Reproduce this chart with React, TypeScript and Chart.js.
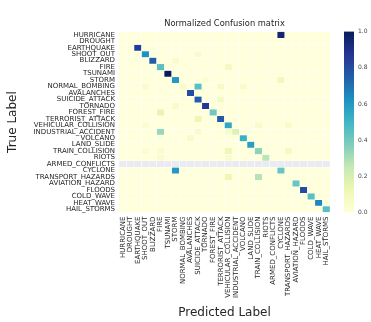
import React, { useEffect, useRef } from "react";
import { Chart, registerables } from "chart.js";

Chart.register(...registerables);

const classes = [
  "HURRICANE", "DROUGHT", "EARTHQUAKE", "SHOOT_OUT", "BLIZZARD", "FIRE", "TSUNAMI",
  "STORM", "NORMAL_BOMBING", "AVALANCHES", "SUICIDE_ATTACK", "TORNADO", "FOREST_FIRE",
  "TERRORIST_ATTACK", "VEHICULAR_COLLISION", "INDUSTRIAL_ACCIDENT", "VOLCANO", "LAND_SLIDE",
  "TRAIN_COLLISION", "RIOTS", "ARMED_CONFLICTS", "CYCLONE", "TRANSPORT_HAZARDS",
  "AVIATION_HAZARD", "FLOODS", "COLD_WAVE", "HEAT_WAVE", "HAIL_STORMS",
];

// rows with no samples (NaN after normalisation)
const nanRows = ["ARMED_CONFLICTS"];

// [true label, predicted label, normalised value]; all other cells are 0
const confusionEntries: [string, string, number][] = [
  ["HURRICANE", "CYCLONE", 0.95],
  ["EARTHQUAKE", "EARTHQUAKE", 0.85],
  ["SHOOT_OUT", "SHOOT_OUT", 0.62],
  ["SHOOT_OUT", "SUICIDE_ATTACK", 0.05],
  ["BLIZZARD", "BLIZZARD", 0.75],
  ["BLIZZARD", "STORM", 0.05],
  ["FIRE", "FIRE", 0.45],
  ["FIRE", "VEHICULAR_COLLISION", 0.08],
  ["TSUNAMI", "TSUNAMI", 1.0],
  ["STORM", "STORM", 0.6],
  ["STORM", "CYCLONE", 0.1],
  ["STORM", "TORNADO", 0.03],
  ["NORMAL_BOMBING", "SHOOT_OUT", 0.04],
  ["NORMAL_BOMBING", "NORMAL_BOMBING", 0.06],
  ["NORMAL_BOMBING", "SUICIDE_ATTACK", 0.45],
  ["NORMAL_BOMBING", "TERRORIST_ATTACK", 0.07],
  ["NORMAL_BOMBING", "VOLCANO", 0.05],
  ["AVALANCHES", "AVALANCHES", 0.8],
  ["SUICIDE_ATTACK", "SUICIDE_ATTACK", 0.75],
  ["SUICIDE_ATTACK", "TERRORIST_ATTACK", 0.08],
  ["TORNADO", "TORNADO", 0.87],
  ["TORNADO", "STORM", 0.05],
  ["FOREST_FIRE", "FOREST_FIRE", 0.4],
  ["FOREST_FIRE", "FIRE", 0.15],
  ["TERRORIST_ATTACK", "TERRORIST_ATTACK", 0.76],
  ["TERRORIST_ATTACK", "SUICIDE_ATTACK", 0.12],
  ["VEHICULAR_COLLISION", "VEHICULAR_COLLISION", 0.55],
  ["VEHICULAR_COLLISION", "SHOOT_OUT", 0.03],
  ["VEHICULAR_COLLISION", "TRAIN_COLLISION", 0.05],
  ["VEHICULAR_COLLISION", "TRANSPORT_HAZARDS", 0.05],
  ["INDUSTRIAL_ACCIDENT", "FIRE", 0.33],
  ["INDUSTRIAL_ACCIDENT", "SUICIDE_ATTACK", 0.05],
  ["INDUSTRIAL_ACCIDENT", "VEHICULAR_COLLISION", 0.06],
  ["INDUSTRIAL_ACCIDENT", "INDUSTRIAL_ACCIDENT", 0.18],
  ["VOLCANO", "VOLCANO", 0.52],
  ["VOLCANO", "AVALANCHES", 0.06],
  ["LAND_SLIDE", "LAND_SLIDE", 0.58],
  ["TRAIN_COLLISION", "TRAIN_COLLISION", 0.35],
  ["TRAIN_COLLISION", "VEHICULAR_COLLISION", 0.12],
  ["TRAIN_COLLISION", "TRANSPORT_HAZARDS", 0.08],
  ["TRAIN_COLLISION", "SHOOT_OUT", 0.03],
  ["TRAIN_COLLISION", "FIRE", 0.04],
  ["RIOTS", "RIOTS", 0.27],
  ["RIOTS", "FIRE", 0.04],
  ["RIOTS", "VEHICULAR_COLLISION", 0.04],
  ["CYCLONE", "STORM", 0.6],
  ["CYCLONE", "CYCLONE", 0.42],
  ["TRANSPORT_HAZARDS", "VEHICULAR_COLLISION", 0.12],
  ["TRANSPORT_HAZARDS", "TRAIN_COLLISION", 0.28],
  ["AVIATION_HAZARD", "AVIATION_HAZARD", 0.42],
  ["FLOODS", "FLOODS", 0.8],
  ["COLD_WAVE", "COLD_WAVE", 0.45],
  ["HEAT_WAVE", "HEAT_WAVE", 0.65],
  ["HAIL_STORMS", "HAIL_STORMS", 0.45],
];

const colorbarTicks = [0, 0.2, 0.4, 0.6, 0.8, 1.0];

const chartTitle = "Normalized Confusion matrix";
const xTitle = "Predicted Label";
const yTitle = "True Label";

// YlGnBu colormap stops
const ylgnbu = ["#ffffd9", "#edf8b1", "#c7e9b4", "#7fcdbb", "#41b6c4", "#1d91c0", "#225ea8", "#253494", "#081d58"];
const nanColor = "#eaeaf2";
const textColor = "#262626";
const fontFamily = "'DejaVu Sans', sans-serif";

function hexToRgb(h: string) {
  const n = parseInt(h.slice(1), 16);
  return [(n >> 16) & 255, (n >> 8) & 255, n & 255];
}

function cmap(v: number) {
  const t = Math.max(0, Math.min(1, v)) * (ylgnbu.length - 1);
  const i = Math.min(Math.floor(t), ylgnbu.length - 2);
  const f = t - i;
  const a = hexToRgb(ylgnbu[i]);
  const b = hexToRgb(ylgnbu[i + 1]);
  const c = a.map((x, k) => Math.round(x + (b[k] - x) * f));
  return `rgb(${c[0]},${c[1]},${c[2]})`;
}

const colorbarPlugin = {
  id: "colorbar",
  afterDraw(chart: any) {
    const s = chart.scales.cb;
    if (!s) return;
    const ctx = chart.ctx;
    const x0 = s.left + 14;
    const w = 10;
    const top = s.getPixelForValue(1);
    const bottom = s.getPixelForValue(0);
    const g = ctx.createLinearGradient(0, bottom, 0, top);
    ylgnbu.forEach((c, i) => g.addColorStop(i / (ylgnbu.length - 1), c));
    ctx.save();
    ctx.fillStyle = g;
    ctx.fillRect(x0, top, w, bottom - top);
    ctx.restore();
  },
};

export default function App() {
  const ref = useRef<HTMLCanvasElement | null>(null);

  useEffect(() => {
    if (!ref.current) return;
    const values: number[][] = classes.map(() => classes.map(() => 0));
    confusionEntries.forEach(([t, p, v]) => {
      values[classes.indexOf(t)][classes.indexOf(p)] = v;
    });

    const datasets = classes.map((rowName, r) => ({
      label: rowName,
      data: classes.map(() => [r - 0.5, r + 0.5]),
      backgroundColor: classes.map((_, c) =>
        nanRows.includes(rowName) ? nanColor : cmap(values[r][c])
      ),
      borderColor: "#ffffff",
      borderWidth: 0.5,
      borderSkipped: false,
      grouped: false,
      barPercentage: 1,
      categoryPercentage: 1,
      yAxisID: "y",
    }));

    const chart = new Chart(ref.current, {
      type: "bar",
      data: { labels: classes, datasets: datasets as any },
      plugins: [colorbarPlugin],
      options: {
        animation: false,
        responsive: false,
        layout: { padding: { left: 0, right: 0, top: 0, bottom: 0 } },
        plugins: {
          legend: { display: false },
          tooltip: { enabled: false },
          title: {
            display: true,
            text: chartTitle,
            fullSize: false,
            color: textColor,
            font: { family: fontFamily, size: 8.3, weight: "normal" },
            padding: { top: 2, bottom: 3 },
          },
        },
        scales: {
          x: {
            type: "category",
            offset: true,
            grid: { display: false, drawTicks: false },
            border: { display: false },
            ticks: {
              autoSkip: false,
              maxRotation: 90,
              minRotation: 90,
              padding: 4,
              color: textColor,
              font: { family: fontFamily, size: 7 },
            },
            title: {
              display: true,
              text: xTitle,
              color: textColor,
              font: { family: fontFamily, size: 12 },
              padding: { top: 0, bottom: 2 },
            },
            afterFit: (s: any) => {
              s.height = 109.5;
            },
          },
          y: {
            type: "linear",
            min: -0.5,
            max: classes.length - 0.5,
            reverse: true,
            grid: { display: false, drawTicks: false },
            border: { display: false },
            afterBuildTicks: (s: any) => {
              s.ticks = classes.map((_, i) => ({ value: i }));
            },
            ticks: {
              autoSkip: false,
              padding: 4,
              color: textColor,
              font: { family: fontFamily, size: 7 },
              callback: (v: any) => classes[v as number],
            },
            title: {
              display: true,
              text: yTitle,
              color: textColor,
              font: { family: fontFamily, size: 12 },
              padding: { top: 6, bottom: 0 },
            },
            afterFit: (s: any) => {
              s.width = 119;
            },
          },
          cb: {
            type: "linear",
            position: "right",
            min: 0,
            max: 1,
            grid: { display: false, drawTicks: false },
            border: { display: false },
            afterBuildTicks: (s: any) => {
              s.ticks = colorbarTicks.map((v) => ({ value: v }));
            },
            ticks: {
              padding: 28,
              color: "#444444",
              font: { family: fontFamily, size: 6 },
              callback: (v: any) => Number(v).toFixed(1),
            },
            afterFit: (s: any) => {
              s.width = 41;
            },
          },
        },
      } as any,
    });
    return () => chart.destroy();
  }, []);

  return (
    <div style={{ position: "absolute", left: 0, top: 0, width: 371, height: 322 }}>
      <canvas ref={ref} width={371} height={322} style={{ display: "block" }} />
    </div>
  );
}
